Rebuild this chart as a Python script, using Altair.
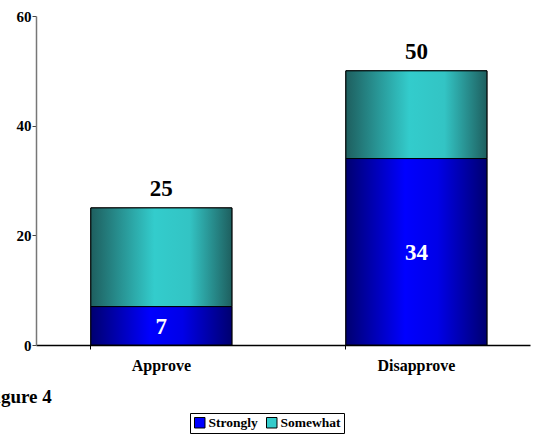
import altair as alt
import pandas as pd

# Survey results: share approving / disapproving, split by intensity
categories = ["Approve", "Disapprove"]
strongly = [7, 34]
somewhat = [18, 16]
series = ["Strongly", "Somewhat"]
series_colors = ["#0000FF", "#33CCCC"]
y_ticks = [0, 20, 40, 60]

rows = []
for cat, s, w in zip(categories, strongly, somewhat):
    rows.append({"cat": cat, "series": "Strongly", "value": s, "start": 0, "end": s, "total": s + w})
    rows.append({"cat": cat, "series": "Somewhat", "value": w, "start": s, "end": s + w, "total": s + w})
df = pd.DataFrame(rows)

FONT = "Liberation Serif"

x_scale = alt.Scale(paddingInner=0.447, paddingOuter=0.192, align=0.56)
x_enc = alt.X(
    "cat:N",
    sort=categories,
    scale=x_scale,
    axis=alt.Axis(
        title=None, labelAngle=0, labelFont=FONT, labelFontWeight="bold",
        labelFontSize=16, labelColor="black", labelPadding=8,
        domainColor="black", domainWidth=1.5, tickColor="black",
        tickSize=4, bandPosition=0,
    ),
)
y_scale = alt.Scale(domain=[0, 60], nice=False)
y_enc = alt.Y(
    "start:Q",
    scale=y_scale,
    axis=alt.Axis(
        title=None, values=y_ticks, grid=False, labelFont=FONT,
        labelFontWeight="bold", labelFontSize=15, labelColor="black",
        labelPadding=1, domainColor="#777777", domainWidth=1.5,
        tickColor="#444444", tickSize=4,
    ),
)

base = alt.Chart(df)

# Solid layer carrying the legend
solid = base.mark_bar(stroke="black", strokeWidth=1).encode(
    x=x_enc,
    y=y_enc,
    y2="end:Q",
    color=alt.Color(
        "series:N",
        scale=alt.Scale(domain=series, range=series_colors),
        legend=alt.Legend(
            title=None, orient="none", direction="horizontal",
            legendX=154, legendY=397, labelFont=FONT, labelFontWeight="bold",
            labelFontSize=13.5, labelColor="black", symbolType="square",
            symbolSize=110, symbolStrokeColor="black", symbolStrokeWidth=1,
            strokeColor="black", padding=3, columnPadding=6, labelOffset=2,
            fillColor="white",
        ),
    ),
)


def shaded(name, stops):
    grad = alt.Gradient(
        gradient="linear", x1=0, x2=1, y1=0, y2=0,
        stops=[alt.GradientStop(offset=o, color=c) for o, c in stops],
    )
    return base.transform_filter(alt.datum.series == name).mark_bar(
        fill=grad, stroke="black", strokeWidth=1
    ).encode(x=alt.X("cat:N", sort=categories, scale=x_scale), y=alt.Y("start:Q", scale=y_scale), y2="end:Q")


strong_bars = shaded("Strongly", [(0, "#000070"), (0.42, "#0000FF"), (0.65, "#0000E8"), (1, "#000070")])
some_bars = shaded("Somewhat", [(0, "#1E5F5F"), (0.45, "#33CCCC"), (0.7, "#33C4C4"), (1, "#1E5F5F")])

totals = base.transform_filter(alt.datum.series == "Somewhat").mark_text(
    font=FONT, fontWeight="bold", fontSize=23, color="black", dy=-19
).encode(x=alt.X("cat:N", sort=categories, scale=x_scale), y=alt.Y("total:Q", scale=y_scale), text="total:Q")

inner = base.transform_filter(alt.datum.series == "Strongly").transform_calculate(
    mid="datum.value / 2"
).mark_text(font=FONT, fontWeight="bold", fontSize=23, color="white", baseline="middle", dy=1).encode(
    x=alt.X("cat:N", sort=categories, scale=x_scale), y=alt.Y("mid:Q", scale=y_scale), text="value:Q"
)

chart = (
    alt.layer(solid, some_bars, strong_bars, totals, inner)
    .properties(
        width=494,
        height=329,
        autosize=alt.AutoSizeParams(type="none"),
        padding={"left": 36, "top": 16, "right": 4, "bottom": 89},
        title=alt.TitleParams(
            "Figure 4", orient="bottom", anchor="start", frame="group",
            font=FONT, fontWeight="bold", fontSize=19, color="black",
            dx=-52, offset=-46,
        ),
    )
    .configure_view(stroke=None)
)

chart.save("out.html", embed_options={"renderer": "svg", "actions": False})
